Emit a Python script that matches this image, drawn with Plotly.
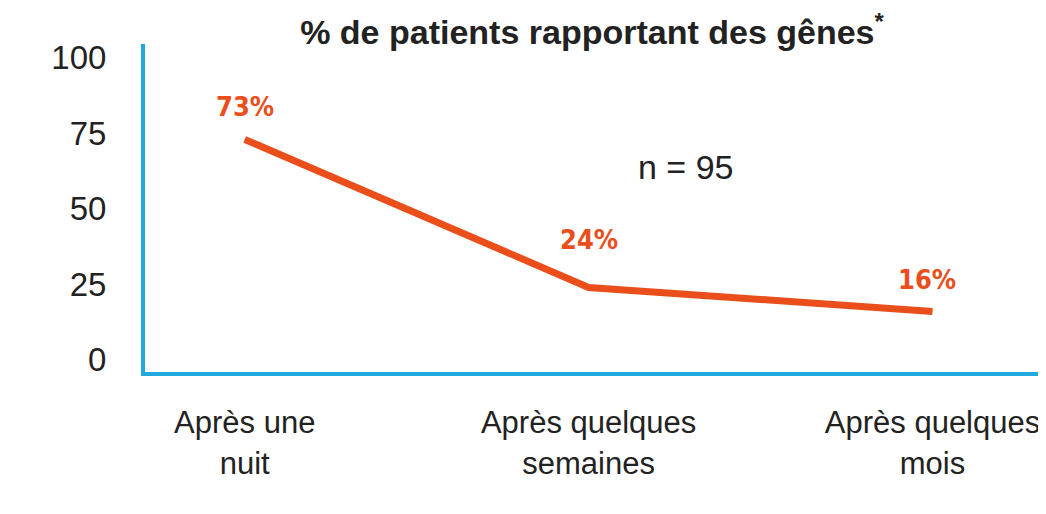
import plotly.graph_objects as go

# data
moments = ["Après une<br>nuit", "Après quelques<br>semaines", "Après quelques<br>mois"]
pct = [73, 24, 16]
y_ticks = [0, 25, 50, 75, 100]

orange = "#E94E1B"
blue = "#1FA9DC"
dark = "#222222"

# the page body adds an 8px margin, so the figure is 8px smaller than the window
W, H = 1038, 506

fig = go.Figure()

fig.add_trace(go.Scatter(
    x=list(range(len(moments))), y=pct,
    mode="lines",
    line=dict(color=orange, width=7),
    hoverinfo="skip",
))

# value labels above the line (shift per point, as in the original)
label_shift = [33, 48, 32]
for i, v in enumerate(pct):
    fig.add_annotation(
        x=i, y=v, text=f"{v}%", showarrow=False,
        yshift=label_shift[i], xshift=-6 if i == 2 else 0,
        font=dict(family="DejaVu Sans Condensed", size=27, color=orange, weight="bold"),
    )

fig.add_annotation(
    x=0.600, y=0.625, xref="paper", yref="paper",
    text="n = 95", showarrow=False,
    font=dict(family="Liberation Sans, Arial", size=34, color=dark),
)

fig.update_layout(
    width=W, height=H,
    paper_bgcolor="white", plot_bgcolor="white",
    margin=dict(l=137, r=0, t=36, b=142),
    showlegend=False,
    title=dict(
        text="% de patients rapportant des gênes<sup>*</sup>",
        x=0.5626, xanchor="center", y=1 - 24 / H, yanchor="middle", yref="container",
        font=dict(family="Liberation Sans, Arial", size=34, color=dark, weight="bold"),
    ),
    xaxis=dict(
        range=[-0.29, 2.33], automargin=False,
        tickmode="array", tickvals=list(range(len(moments))), ticktext=moments,
        showgrid=False, zeroline=False,
        showline=True, linecolor=blue, linewidth=4,
        ticks="", ticklabelstandoff=20,
        tickfont=dict(family="Liberation Sans, Arial", size=31, color=dark),
    ),
    yaxis=dict(
        range=[-4, 104.6], automargin=False,
        tickmode="array", tickvals=y_ticks,
        showgrid=False, zeroline=False,
        showline=True, linecolor=blue, linewidth=4,
        ticks="", ticklabelstandoff=28,
        tickfont=dict(family="Liberation Sans, Arial", size=33, color=dark),
    ),
)

fig.write_html("out.html")
